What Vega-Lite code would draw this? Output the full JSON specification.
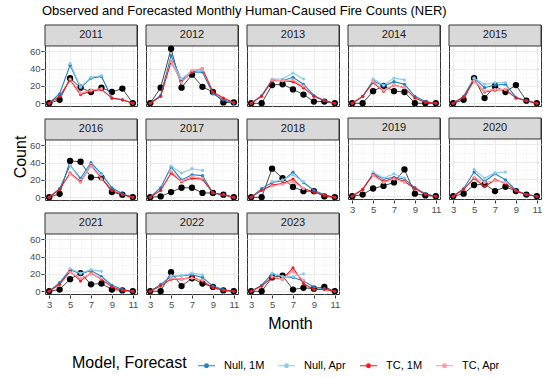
{
  "$schema": "https://vega.github.io/schema/vega-lite/v6.json",
  "title": {"text": "Observed and Forecasted Monthly Human-Caused Fire Counts (NER)", "anchor": "start", "fontSize": 13, "fontWeight": "normal", "font": "Liberation Sans", "color": "#000000", "offset": 6, "dx": 30},
  "padding": {"left": 12, "top": 5, "right": 5, "bottom": 5},
  "data": {"values": [
    {"Year":2011,"Month":3,"Observed":0,"Null, 1M":0,"Null, Apr":null,"TC, 1M":0,"TC, Apr":null},
    {"Year":2011,"Month":4,"Observed":4,"Null, 1M":11,"Null, Apr":null,"TC, 1M":8,"TC, Apr":null},
    {"Year":2011,"Month":5,"Observed":29,"Null, 1M":44,"Null, Apr":46,"TC, 1M":27,"TC, Apr":28},
    {"Year":2011,"Month":6,"Observed":18,"Null, 1M":18,"Null, Apr":19,"TC, 1M":10,"TC, Apr":12},
    {"Year":2011,"Month":7,"Observed":13,"Null, 1M":29,"Null, Apr":30,"TC, 1M":14,"TC, Apr":15},
    {"Year":2011,"Month":8,"Observed":18,"Null, 1M":31,"Null, Apr":32,"TC, 1M":16,"TC, Apr":17},
    {"Year":2011,"Month":9,"Observed":13,"Null, 1M":6,"Null, Apr":null,"TC, 1M":6,"TC, Apr":null},
    {"Year":2011,"Month":10,"Observed":17,"Null, 1M":4,"Null, Apr":null,"TC, 1M":4,"TC, Apr":null},
    {"Year":2011,"Month":11,"Observed":0,"Null, 1M":0,"Null, Apr":null,"TC, 1M":0,"TC, Apr":null},
    {"Year":2012,"Month":3,"Observed":0,"Null, 1M":0,"Null, Apr":null,"TC, 1M":0,"TC, Apr":null},
    {"Year":2012,"Month":4,"Observed":18,"Null, 1M":9,"Null, Apr":null,"TC, 1M":8,"TC, Apr":null},
    {"Year":2012,"Month":5,"Observed":63,"Null, 1M":55,"Null, Apr":50,"TC, 1M":48,"TC, Apr":48},
    {"Year":2012,"Month":6,"Observed":18,"Null, 1M":27,"Null, Apr":28,"TC, 1M":25,"TC, Apr":24},
    {"Year":2012,"Month":7,"Observed":33,"Null, 1M":36,"Null, Apr":38,"TC, 1M":36,"TC, Apr":38},
    {"Year":2012,"Month":8,"Observed":19,"Null, 1M":36,"Null, Apr":38,"TC, 1M":40,"TC, Apr":40},
    {"Year":2012,"Month":9,"Observed":13,"Null, 1M":11,"Null, Apr":null,"TC, 1M":13,"TC, Apr":null},
    {"Year":2012,"Month":10,"Observed":1,"Null, 1M":4,"Null, Apr":null,"TC, 1M":6,"TC, Apr":null},
    {"Year":2012,"Month":11,"Observed":1,"Null, 1M":0,"Null, Apr":null,"TC, 1M":1,"TC, Apr":null},
    {"Year":2013,"Month":3,"Observed":0,"Null, 1M":0,"Null, Apr":null,"TC, 1M":0,"TC, Apr":null},
    {"Year":2013,"Month":4,"Observed":0,"Null, 1M":9,"Null, Apr":null,"TC, 1M":8,"TC, Apr":null},
    {"Year":2013,"Month":5,"Observed":21,"Null, 1M":27,"Null, Apr":28,"TC, 1M":26,"TC, Apr":27},
    {"Year":2013,"Month":6,"Observed":22,"Null, 1M":26,"Null, Apr":28,"TC, 1M":26,"TC, Apr":26},
    {"Year":2013,"Month":7,"Observed":16,"Null, 1M":30,"Null, Apr":35,"TC, 1M":25,"TC, Apr":27},
    {"Year":2013,"Month":8,"Observed":10,"Null, 1M":22,"Null, Apr":28,"TC, 1M":18,"TC, Apr":20},
    {"Year":2013,"Month":9,"Observed":2,"Null, 1M":9,"Null, Apr":null,"TC, 1M":8,"TC, Apr":null},
    {"Year":2013,"Month":10,"Observed":2,"Null, 1M":3,"Null, Apr":null,"TC, 1M":3,"TC, Apr":null},
    {"Year":2013,"Month":11,"Observed":0,"Null, 1M":0,"Null, Apr":null,"TC, 1M":0,"TC, Apr":null},
    {"Year":2014,"Month":3,"Observed":0,"Null, 1M":0,"Null, Apr":null,"TC, 1M":0,"TC, Apr":null},
    {"Year":2014,"Month":4,"Observed":0,"Null, 1M":8,"Null, Apr":null,"TC, 1M":8,"TC, Apr":null},
    {"Year":2014,"Month":5,"Observed":14,"Null, 1M":26,"Null, Apr":28,"TC, 1M":24,"TC, Apr":25},
    {"Year":2014,"Month":6,"Observed":20,"Null, 1M":20,"Null, Apr":21,"TC, 1M":14,"TC, Apr":15},
    {"Year":2014,"Month":7,"Observed":14,"Null, 1M":25,"Null, Apr":29,"TC, 1M":21,"TC, Apr":21},
    {"Year":2014,"Month":8,"Observed":13,"Null, 1M":22,"Null, Apr":27,"TC, 1M":18,"TC, Apr":18},
    {"Year":2014,"Month":9,"Observed":0,"Null, 1M":8,"Null, Apr":null,"TC, 1M":6,"TC, Apr":null},
    {"Year":2014,"Month":10,"Observed":0,"Null, 1M":2,"Null, Apr":null,"TC, 1M":1,"TC, Apr":null},
    {"Year":2014,"Month":11,"Observed":0,"Null, 1M":0,"Null, Apr":null,"TC, 1M":0,"TC, Apr":null},
    {"Year":2015,"Month":3,"Observed":0,"Null, 1M":0,"Null, Apr":null,"TC, 1M":0,"TC, Apr":null},
    {"Year":2015,"Month":4,"Observed":4,"Null, 1M":8,"Null, Apr":null,"TC, 1M":7,"TC, Apr":null},
    {"Year":2015,"Month":5,"Observed":29,"Null, 1M":29,"Null, Apr":29,"TC, 1M":26,"TC, Apr":26},
    {"Year":2015,"Month":6,"Observed":6,"Null, 1M":18,"Null, Apr":22,"TC, 1M":13,"TC, Apr":14},
    {"Year":2015,"Month":7,"Observed":20,"Null, 1M":21,"Null, Apr":24,"TC, 1M":15,"TC, Apr":16},
    {"Year":2015,"Month":8,"Observed":13,"Null, 1M":22,"Null, Apr":24,"TC, 1M":16,"TC, Apr":16},
    {"Year":2015,"Month":9,"Observed":21,"Null, 1M":7,"Null, Apr":null,"TC, 1M":6,"TC, Apr":null},
    {"Year":2015,"Month":10,"Observed":3,"Null, 1M":3,"Null, Apr":null,"TC, 1M":3,"TC, Apr":null},
    {"Year":2015,"Month":11,"Observed":0,"Null, 1M":0,"Null, Apr":null,"TC, 1M":0,"TC, Apr":null},
    {"Year":2016,"Month":3,"Observed":0,"Null, 1M":0,"Null, Apr":null,"TC, 1M":0,"TC, Apr":null},
    {"Year":2016,"Month":4,"Observed":4,"Null, 1M":10,"Null, Apr":null,"TC, 1M":9,"TC, Apr":null},
    {"Year":2016,"Month":5,"Observed":42,"Null, 1M":37,"Null, Apr":37,"TC, 1M":28,"TC, Apr":27},
    {"Year":2016,"Month":6,"Observed":41,"Null, 1M":22,"Null, Apr":20,"TC, 1M":18,"TC, Apr":17},
    {"Year":2016,"Month":7,"Observed":23,"Null, 1M":40,"Null, Apr":38,"TC, 1M":37,"TC, Apr":36},
    {"Year":2016,"Month":8,"Observed":23,"Null, 1M":27,"Null, Apr":26,"TC, 1M":22,"TC, Apr":21},
    {"Year":2016,"Month":9,"Observed":6,"Null, 1M":11,"Null, Apr":null,"TC, 1M":8,"TC, Apr":null},
    {"Year":2016,"Month":10,"Observed":3,"Null, 1M":4,"Null, Apr":null,"TC, 1M":3,"TC, Apr":null},
    {"Year":2016,"Month":11,"Observed":0,"Null, 1M":0,"Null, Apr":null,"TC, 1M":0,"TC, Apr":null},
    {"Year":2017,"Month":3,"Observed":0,"Null, 1M":0,"Null, Apr":null,"TC, 1M":0,"TC, Apr":null},
    {"Year":2017,"Month":4,"Observed":1,"Null, 1M":11,"Null, Apr":null,"TC, 1M":8,"TC, Apr":null},
    {"Year":2017,"Month":5,"Observed":6,"Null, 1M":35,"Null, Apr":36,"TC, 1M":28,"TC, Apr":30},
    {"Year":2017,"Month":6,"Observed":11,"Null, 1M":20,"Null, Apr":28,"TC, 1M":18,"TC, Apr":19},
    {"Year":2017,"Month":7,"Observed":11,"Null, 1M":26,"Null, Apr":33,"TC, 1M":22,"TC, Apr":24},
    {"Year":2017,"Month":8,"Observed":5,"Null, 1M":25,"Null, Apr":31,"TC, 1M":21,"TC, Apr":22},
    {"Year":2017,"Month":9,"Observed":5,"Null, 1M":5,"Null, Apr":null,"TC, 1M":5,"TC, Apr":null},
    {"Year":2017,"Month":10,"Observed":3,"Null, 1M":3,"Null, Apr":null,"TC, 1M":3,"TC, Apr":null},
    {"Year":2017,"Month":11,"Observed":0,"Null, 1M":0,"Null, Apr":null,"TC, 1M":0,"TC, Apr":null},
    {"Year":2018,"Month":3,"Observed":0,"Null, 1M":0,"Null, Apr":null,"TC, 1M":0,"TC, Apr":null},
    {"Year":2018,"Month":4,"Observed":0,"Null, 1M":10,"Null, Apr":null,"TC, 1M":8,"TC, Apr":null},
    {"Year":2018,"Month":5,"Observed":33,"Null, 1M":17,"Null, Apr":18,"TC, 1M":14,"TC, Apr":13},
    {"Year":2018,"Month":6,"Observed":22,"Null, 1M":19,"Null, Apr":20,"TC, 1M":16,"TC, Apr":15},
    {"Year":2018,"Month":7,"Observed":12,"Null, 1M":29,"Null, Apr":26,"TC, 1M":21,"TC, Apr":18},
    {"Year":2018,"Month":8,"Observed":7,"Null, 1M":17,"Null, Apr":18,"TC, 1M":10,"TC, Apr":10},
    {"Year":2018,"Month":9,"Observed":7,"Null, 1M":8,"Null, Apr":null,"TC, 1M":6,"TC, Apr":null},
    {"Year":2018,"Month":10,"Observed":1,"Null, 1M":3,"Null, Apr":null,"TC, 1M":2,"TC, Apr":null},
    {"Year":2018,"Month":11,"Observed":0,"Null, 1M":0,"Null, Apr":null,"TC, 1M":0,"TC, Apr":null},
    {"Year":2019,"Month":3,"Observed":0,"Null, 1M":0,"Null, Apr":null,"TC, 1M":0,"TC, Apr":null},
    {"Year":2019,"Month":4,"Observed":2,"Null, 1M":8,"Null, Apr":null,"TC, 1M":8,"TC, Apr":null},
    {"Year":2019,"Month":5,"Observed":9,"Null, 1M":26,"Null, Apr":28,"TC, 1M":25,"TC, Apr":24},
    {"Year":2019,"Month":6,"Observed":12,"Null, 1M":20,"Null, Apr":21,"TC, 1M":17,"TC, Apr":16},
    {"Year":2019,"Month":7,"Observed":16,"Null, 1M":22,"Null, Apr":26,"TC, 1M":21,"TC, Apr":20},
    {"Year":2019,"Month":8,"Observed":31,"Null, 1M":20,"Null, Apr":21,"TC, 1M":17,"TC, Apr":16},
    {"Year":2019,"Month":9,"Observed":3,"Null, 1M":10,"Null, Apr":null,"TC, 1M":9,"TC, Apr":null},
    {"Year":2019,"Month":10,"Observed":1,"Null, 1M":3,"Null, Apr":null,"TC, 1M":2,"TC, Apr":null},
    {"Year":2019,"Month":11,"Observed":0,"Null, 1M":0,"Null, Apr":null,"TC, 1M":0,"TC, Apr":null},
    {"Year":2020,"Month":3,"Observed":0,"Null, 1M":0,"Null, Apr":null,"TC, 1M":0,"TC, Apr":null},
    {"Year":2020,"Month":4,"Observed":3,"Null, 1M":9,"Null, Apr":null,"TC, 1M":8,"TC, Apr":null},
    {"Year":2020,"Month":5,"Observed":13,"Null, 1M":28,"Null, Apr":31,"TC, 1M":21,"TC, Apr":22},
    {"Year":2020,"Month":6,"Observed":14,"Null, 1M":17,"Null, Apr":21,"TC, 1M":11,"TC, Apr":16},
    {"Year":2020,"Month":7,"Observed":6,"Null, 1M":26,"Null, Apr":27,"TC, 1M":19,"TC, Apr":18},
    {"Year":2020,"Month":8,"Observed":11,"Null, 1M":19,"Null, Apr":28,"TC, 1M":15,"TC, Apr":16},
    {"Year":2020,"Month":9,"Observed":6,"Null, 1M":7,"Null, Apr":null,"TC, 1M":6,"TC, Apr":null},
    {"Year":2020,"Month":10,"Observed":2,"Null, 1M":2,"Null, Apr":null,"TC, 1M":2,"TC, Apr":null},
    {"Year":2020,"Month":11,"Observed":0,"Null, 1M":0,"Null, Apr":null,"TC, 1M":0,"TC, Apr":null},
    {"Year":2021,"Month":3,"Observed":0,"Null, 1M":0,"Null, Apr":null,"TC, 1M":0,"TC, Apr":null},
    {"Year":2021,"Month":4,"Observed":2,"Null, 1M":10,"Null, Apr":null,"TC, 1M":8,"TC, Apr":null},
    {"Year":2021,"Month":5,"Observed":14,"Null, 1M":25,"Null, Apr":26,"TC, 1M":23,"TC, Apr":22},
    {"Year":2021,"Month":6,"Observed":21,"Null, 1M":20,"Null, Apr":21,"TC, 1M":12,"TC, Apr":15},
    {"Year":2021,"Month":7,"Observed":8,"Null, 1M":24,"Null, Apr":25,"TC, 1M":21,"TC, Apr":20},
    {"Year":2021,"Month":8,"Observed":9,"Null, 1M":17,"Null, Apr":23,"TC, 1M":14,"TC, Apr":15},
    {"Year":2021,"Month":9,"Observed":2,"Null, 1M":7,"Null, Apr":null,"TC, 1M":5,"TC, Apr":null},
    {"Year":2021,"Month":10,"Observed":1,"Null, 1M":2,"Null, Apr":null,"TC, 1M":1,"TC, Apr":null},
    {"Year":2021,"Month":11,"Observed":0,"Null, 1M":0,"Null, Apr":null,"TC, 1M":0,"TC, Apr":null},
    {"Year":2022,"Month":3,"Observed":0,"Null, 1M":0,"Null, Apr":null,"TC, 1M":0,"TC, Apr":null},
    {"Year":2022,"Month":4,"Observed":0,"Null, 1M":8,"Null, Apr":null,"TC, 1M":6,"TC, Apr":null},
    {"Year":2022,"Month":5,"Observed":22,"Null, 1M":17,"Null, Apr":18,"TC, 1M":14,"TC, Apr":15},
    {"Year":2022,"Month":6,"Observed":6,"Null, 1M":18,"Null, Apr":18,"TC, 1M":14,"TC, Apr":14},
    {"Year":2022,"Month":7,"Observed":15,"Null, 1M":19,"Null, Apr":21,"TC, 1M":16,"TC, Apr":15},
    {"Year":2022,"Month":8,"Observed":9,"Null, 1M":16,"Null, Apr":19,"TC, 1M":12,"TC, Apr":13},
    {"Year":2022,"Month":9,"Observed":5,"Null, 1M":6,"Null, Apr":null,"TC, 1M":4,"TC, Apr":null},
    {"Year":2022,"Month":10,"Observed":1,"Null, 1M":2,"Null, Apr":null,"TC, 1M":1,"TC, Apr":null},
    {"Year":2022,"Month":11,"Observed":0,"Null, 1M":0,"Null, Apr":null,"TC, 1M":0,"TC, Apr":null},
    {"Year":2023,"Month":3,"Observed":0,"Null, 1M":0,"Null, Apr":null,"TC, 1M":0,"TC, Apr":null},
    {"Year":2023,"Month":4,"Observed":0,"Null, 1M":7,"Null, Apr":null,"TC, 1M":6,"TC, Apr":null},
    {"Year":2023,"Month":5,"Observed":16,"Null, 1M":20,"Null, Apr":21,"TC, 1M":16,"TC, Apr":17},
    {"Year":2023,"Month":6,"Observed":18,"Null, 1M":17,"Null, Apr":17,"TC, 1M":14,"TC, Apr":14},
    {"Year":2023,"Month":7,"Observed":2,"Null, 1M":16,"Null, Apr":17,"TC, 1M":27,"TC, Apr":23},
    {"Year":2023,"Month":8,"Observed":4,"Null, 1M":12,"Null, Apr":20,"TC, 1M":9,"TC, Apr":13},
    {"Year":2023,"Month":9,"Observed":3,"Null, 1M":5,"Null, Apr":null,"TC, 1M":2,"TC, Apr":null},
    {"Year":2023,"Month":10,"Observed":5,"Null, 1M":3,"Null, Apr":null,"TC, 1M":2,"TC, Apr":null},
    {"Year":2023,"Month":11,"Observed":0,"Null, 1M":0,"Null, Apr":null,"TC, 1M":0,"TC, Apr":null}
  ]},
  "transform": [
    {"fold": ["Observed", "Null, 1M", "Null, Apr", "TC, 1M", "TC, Apr"], "as": ["Series", "Count"]},
    {"filter": "datum.Count != null"}
  ],
  "spacing": 0,
  "resolve": {"scale": {"color": "shared"}, "legend": {"color": "shared"}},
  "hconcat": [
    {
      "width": 1,
      "height": 263,
      "view": {"stroke": null},
      "mark": {"type": "point", "opacity": 0, "size": 0},
      "encoding": {
        "y": {"field": "Count", "type": "quantitative",
          "axis": {"title": "Count", "labels": false, "ticks": false, "domain": false, "grid": false, "titlePadding": 0}}
      }
    },
    {
      "vconcat": [
        {
          "hconcat": [
            {
              "vconcat": [
                {
                  "transform": [{"filter": "datum.Year >= 2011 && datum.Year <= 2013"}],
                  "facet": {"column": {"field": "Year", "type": "ordinal", "header": null}},
                  "spacing": 7,
                  "spec": {
                    "width": 92, "height": 81,
                    "encoding": {
                      "x": {"field": "Month", "type": "quantitative", "title": null,
                        "scale": {"domain": [2.6, 11.4], "nice": false, "zero": false},
                        "axis": {"values": [3, 4, 5, 6, 7, 8, 9, 10, 11], "labels": false, "ticks": false,
                          "gridColor": {"condition": {"test": "datum.value % 2 == 1", "value": "#EBEBEB"}, "value": "#F3F3F3"},
                          "gridWidth": {"condition": {"test": "datum.value % 2 == 1", "value": 1}, "value": 0.6}}},
                      "y": {"field": "Count", "type": "quantitative", "title": null,
                        "scale": {"domain": [-3.15, 90.4], "nice": false, "zero": false},
                        "axis": {"values": [0, 10, 20, 30, 40, 50, 60], "minExtent": 15, "maxExtent": 15,
                          "labelExpr": "datum.value % 20 == 0 ? datum.label : ''",
                          "tickOpacity": {"condition": {"test": "datum.value % 20 == 0", "value": 1}, "value": 0},
                          "gridColor": {"condition": {"test": "datum.value % 20 == 0", "value": "#EBEBEB"}, "value": "#F3F3F3"},
                          "gridWidth": {"condition": {"test": "datum.value % 20 == 0", "value": 1}, "value": 0.6}}}
                    },
                    "layer": [
                      {"transform": [{"filter": "datum.Series == 'Observed' && datum.Month == 3"}],
                       "mark": {"type": "rect", "fill": "#D9D9D9", "stroke": "#333333", "strokeWidth": 1},
                       "encoding": {"x": {"datum": 2.6, "type": "quantitative", "title": null}, "x2": {"datum": 11.4}, "y": {"datum": 66.15, "type": "quantitative", "title": null}, "y2": {"datum": 90.4}}},
                      {"transform": [{"filter": "datum.Series == 'Observed' && datum.Month == 3"}],
                       "mark": {"type": "text", "fontSize": 11, "font": "Liberation Sans", "color": "#1A1A1A"},
                       "encoding": {"x": {"datum": 7, "type": "quantitative", "title": null}, "y": {"datum": 78.3, "type": "quantitative", "title": null}, "text": {"field": "Year"}}},
                      {"transform": [{"filter": "datum.Series == 'Observed'"}], "mark": {"type": "line", "color": "#333333", "strokeWidth": 0.9}},
                      {"transform": [{"filter": "datum.Series == 'Observed'"}], "mark": {"type": "point", "filled": true, "color": "#000000", "size": 40, "opacity": 1}},
                      {"transform": [{"filter": "datum.Series != 'Observed'"}], "mark": {"type": "line", "strokeWidth": 1.1},
                       "encoding": {"color": {"field": "Series", "type": "nominal", "scale": {"domain": ["Null, 1M", "Null, Apr", "TC, 1M", "TC, Apr"], "range": ["#1F82C4", "#8CCBEB", "#F8141C", "#FB9CA4"]}, "legend": {"title": "Model, Forecast", "orient": "none", "legendX": 44, "legendY": 331}}}},
                      {"transform": [{"filter": "datum.Series != 'Observed'"}], "mark": {"type": "point", "filled": true, "size": 10, "opacity": 1},
                       "encoding": {"color": {"field": "Series", "type": "nominal", "legend": {"title": "Model, Forecast", "orient": "none", "legendX": 44, "legendY": 331}}}}
                    ]
                  }
                },
                {
                  "transform": [{"filter": "datum.Year >= 2016 && datum.Year <= 2018"}],
                  "facet": {"column": {"field": "Year", "type": "ordinal", "header": null}},
                  "spacing": 7,
                  "spec": {
                    "width": 92, "height": 81,
                    "encoding": {
                      "x": {"field": "Month", "type": "quantitative", "title": null,
                        "scale": {"domain": [2.6, 11.4], "nice": false, "zero": false},
                        "axis": {"values": [3, 4, 5, 6, 7, 8, 9, 10, 11], "labels": false, "ticks": false,
                          "gridColor": {"condition": {"test": "datum.value % 2 == 1", "value": "#EBEBEB"}, "value": "#F3F3F3"},
                          "gridWidth": {"condition": {"test": "datum.value % 2 == 1", "value": 1}, "value": 0.6}}},
                      "y": {"field": "Count", "type": "quantitative", "title": null,
                        "scale": {"domain": [-3.15, 90.4], "nice": false, "zero": false},
                        "axis": {"values": [0, 10, 20, 30, 40, 50, 60], "minExtent": 15, "maxExtent": 15,
                          "labelExpr": "datum.value % 20 == 0 ? datum.label : ''",
                          "tickOpacity": {"condition": {"test": "datum.value % 20 == 0", "value": 1}, "value": 0},
                          "gridColor": {"condition": {"test": "datum.value % 20 == 0", "value": "#EBEBEB"}, "value": "#F3F3F3"},
                          "gridWidth": {"condition": {"test": "datum.value % 20 == 0", "value": 1}, "value": 0.6}}}
                    },
                    "layer": [
                      {"transform": [{"filter": "datum.Series == 'Observed' && datum.Month == 3"}],
                       "mark": {"type": "rect", "fill": "#D9D9D9", "stroke": "#333333", "strokeWidth": 1},
                       "encoding": {"x": {"datum": 2.6, "type": "quantitative", "title": null}, "x2": {"datum": 11.4}, "y": {"datum": 66.15, "type": "quantitative", "title": null}, "y2": {"datum": 90.4}}},
                      {"transform": [{"filter": "datum.Series == 'Observed' && datum.Month == 3"}],
                       "mark": {"type": "text", "fontSize": 11, "font": "Liberation Sans", "color": "#1A1A1A"},
                       "encoding": {"x": {"datum": 7, "type": "quantitative", "title": null}, "y": {"datum": 78.3, "type": "quantitative", "title": null}, "text": {"field": "Year"}}},
                      {"transform": [{"filter": "datum.Series == 'Observed'"}], "mark": {"type": "line", "color": "#333333", "strokeWidth": 0.9}},
                      {"transform": [{"filter": "datum.Series == 'Observed'"}], "mark": {"type": "point", "filled": true, "color": "#000000", "size": 40, "opacity": 1}},
                      {"transform": [{"filter": "datum.Series != 'Observed'"}], "mark": {"type": "line", "strokeWidth": 1.1},
                       "encoding": {"color": {"field": "Series", "type": "nominal", "legend": {"title": "Model, Forecast", "orient": "none", "legendX": 44, "legendY": 331}}}},
                      {"transform": [{"filter": "datum.Series != 'Observed'"}], "mark": {"type": "point", "filled": true, "size": 10, "opacity": 1},
                       "encoding": {"color": {"field": "Series", "type": "nominal", "legend": {"title": "Model, Forecast", "orient": "none", "legendX": 44, "legendY": 331}}}}
                    ]
                  }
                },
                {
                  "transform": [{"filter": "datum.Year >= 2021"}],
                  "facet": {"column": {"field": "Year", "type": "ordinal", "header": null}},
                  "spacing": 7,
                  "spec": {
                    "width": 92, "height": 81,
                    "encoding": {
                      "x": {"field": "Month", "type": "quantitative", "title": null,
                        "scale": {"domain": [2.6, 11.4], "nice": false, "zero": false},
                        "axis": {"values": [3, 4, 5, 6, 7, 8, 9, 10, 11],
                          "labelExpr": "datum.value % 2 == 1 ? datum.label : ''",
                          "tickOpacity": {"condition": {"test": "datum.value % 2 == 1", "value": 1}, "value": 0},
                          "gridColor": {"condition": {"test": "datum.value % 2 == 1", "value": "#EBEBEB"}, "value": "#F3F3F3"},
                          "gridWidth": {"condition": {"test": "datum.value % 2 == 1", "value": 1}, "value": 0.6}}},
                      "y": {"field": "Count", "type": "quantitative", "title": null,
                        "scale": {"domain": [-3.15, 90.4], "nice": false, "zero": false},
                        "axis": {"values": [0, 10, 20, 30, 40, 50, 60], "minExtent": 15, "maxExtent": 15,
                          "labelExpr": "datum.value % 20 == 0 ? datum.label : ''",
                          "tickOpacity": {"condition": {"test": "datum.value % 20 == 0", "value": 1}, "value": 0},
                          "gridColor": {"condition": {"test": "datum.value % 20 == 0", "value": "#EBEBEB"}, "value": "#F3F3F3"},
                          "gridWidth": {"condition": {"test": "datum.value % 20 == 0", "value": 1}, "value": 0.6}}}
                    },
                    "layer": [
                      {"transform": [{"filter": "datum.Series == 'Observed' && datum.Month == 3"}],
                       "mark": {"type": "rect", "fill": "#D9D9D9", "stroke": "#333333", "strokeWidth": 1},
                       "encoding": {"x": {"datum": 2.6, "type": "quantitative", "title": null}, "x2": {"datum": 11.4}, "y": {"datum": 66.15, "type": "quantitative", "title": null}, "y2": {"datum": 90.4}}},
                      {"transform": [{"filter": "datum.Series == 'Observed' && datum.Month == 3"}],
                       "mark": {"type": "text", "fontSize": 11, "font": "Liberation Sans", "color": "#1A1A1A"},
                       "encoding": {"x": {"datum": 7, "type": "quantitative", "title": null}, "y": {"datum": 78.3, "type": "quantitative", "title": null}, "text": {"field": "Year"}}},
                      {"transform": [{"filter": "datum.Series == 'Observed'"}], "mark": {"type": "line", "color": "#333333", "strokeWidth": 0.9}},
                      {"transform": [{"filter": "datum.Series == 'Observed'"}], "mark": {"type": "point", "filled": true, "color": "#000000", "size": 40, "opacity": 1}},
                      {"transform": [{"filter": "datum.Series != 'Observed'"}], "mark": {"type": "line", "strokeWidth": 1.1},
                       "encoding": {"color": {"field": "Series", "type": "nominal", "legend": {"title": "Model, Forecast", "orient": "none", "legendX": 44, "legendY": 331}}}},
                      {"transform": [{"filter": "datum.Series != 'Observed'"}], "mark": {"type": "point", "filled": true, "size": 10, "opacity": 1},
                       "encoding": {"color": {"field": "Series", "type": "nominal", "legend": {"title": "Model, Forecast", "orient": "none", "legendX": 44, "legendY": 331}}}}
                    ]
                  }
                }
              ],
              "spacing": 10
            },
            {
              "vconcat": [
                {
                  "transform": [{"filter": "datum.Year >= 2014 && datum.Year <= 2015"}],
                  "facet": {"column": {"field": "Year", "type": "ordinal", "header": null}},
                  "spacing": 7,
                  "spec": {
                    "width": 92, "height": 81,
                    "encoding": {
                      "x": {"field": "Month", "type": "quantitative", "title": null,
                        "scale": {"domain": [2.6, 11.4], "nice": false, "zero": false},
                        "axis": {"values": [3, 4, 5, 6, 7, 8, 9, 10, 11], "labels": false, "ticks": false,
                          "gridColor": {"condition": {"test": "datum.value % 2 == 1", "value": "#EBEBEB"}, "value": "#F3F3F3"},
                          "gridWidth": {"condition": {"test": "datum.value % 2 == 1", "value": 1}, "value": 0.6}}},
                      "y": {"field": "Count", "type": "quantitative", "title": null,
                        "scale": {"domain": [-3.15, 90.4], "nice": false, "zero": false},
                        "axis": {"values": [0, 10, 20, 30, 40, 50, 60], "labels": false, "ticks": false, "minExtent": 0, "maxExtent": 0,
                          "gridColor": {"condition": {"test": "datum.value % 20 == 0", "value": "#EBEBEB"}, "value": "#F3F3F3"},
                          "gridWidth": {"condition": {"test": "datum.value % 20 == 0", "value": 1}, "value": 0.6}}}
                    },
                    "layer": [
                      {"transform": [{"filter": "datum.Series == 'Observed' && datum.Month == 3"}],
                       "mark": {"type": "rect", "fill": "#D9D9D9", "stroke": "#333333", "strokeWidth": 1},
                       "encoding": {"x": {"datum": 2.6, "type": "quantitative", "title": null}, "x2": {"datum": 11.4}, "y": {"datum": 66.15, "type": "quantitative", "title": null}, "y2": {"datum": 90.4}}},
                      {"transform": [{"filter": "datum.Series == 'Observed' && datum.Month == 3"}],
                       "mark": {"type": "text", "fontSize": 11, "font": "Liberation Sans", "color": "#1A1A1A"},
                       "encoding": {"x": {"datum": 7, "type": "quantitative", "title": null}, "y": {"datum": 78.3, "type": "quantitative", "title": null}, "text": {"field": "Year"}}},
                      {"transform": [{"filter": "datum.Series == 'Observed'"}], "mark": {"type": "line", "color": "#333333", "strokeWidth": 0.9}},
                      {"transform": [{"filter": "datum.Series == 'Observed'"}], "mark": {"type": "point", "filled": true, "color": "#000000", "size": 40, "opacity": 1}},
                      {"transform": [{"filter": "datum.Series != 'Observed'"}], "mark": {"type": "line", "strokeWidth": 1.1},
                       "encoding": {"color": {"field": "Series", "type": "nominal", "legend": {"title": "Model, Forecast", "orient": "none", "legendX": 44, "legendY": 331}}}},
                      {"transform": [{"filter": "datum.Series != 'Observed'"}], "mark": {"type": "point", "filled": true, "size": 10, "opacity": 1},
                       "encoding": {"color": {"field": "Series", "type": "nominal", "legend": {"title": "Model, Forecast", "orient": "none", "legendX": 44, "legendY": 331}}}}
                    ]
                  }
                },
                {
                  "transform": [{"filter": "datum.Year >= 2019 && datum.Year <= 2020"}],
                  "facet": {"column": {"field": "Year", "type": "ordinal", "header": null}},
                  "spacing": 7,
                  "spec": {
                    "width": 92, "height": 81,
                    "encoding": {
                      "x": {"field": "Month", "type": "quantitative", "title": null,
                        "scale": {"domain": [2.6, 11.4], "nice": false, "zero": false},
                        "axis": {"values": [3, 4, 5, 6, 7, 8, 9, 10, 11],
                          "labelExpr": "datum.value % 2 == 1 ? datum.label : ''",
                          "tickOpacity": {"condition": {"test": "datum.value % 2 == 1", "value": 1}, "value": 0},
                          "gridColor": {"condition": {"test": "datum.value % 2 == 1", "value": "#EBEBEB"}, "value": "#F3F3F3"},
                          "gridWidth": {"condition": {"test": "datum.value % 2 == 1", "value": 1}, "value": 0.6}}},
                      "y": {"field": "Count", "type": "quantitative", "title": null,
                        "scale": {"domain": [-3.15, 90.4], "nice": false, "zero": false},
                        "axis": {"values": [0, 10, 20, 30, 40, 50, 60], "labels": false, "ticks": false, "minExtent": 0, "maxExtent": 0,
                          "gridColor": {"condition": {"test": "datum.value % 20 == 0", "value": "#EBEBEB"}, "value": "#F3F3F3"},
                          "gridWidth": {"condition": {"test": "datum.value % 20 == 0", "value": 1}, "value": 0.6}}}
                    },
                    "layer": [
                      {"transform": [{"filter": "datum.Series == 'Observed' && datum.Month == 3"}],
                       "mark": {"type": "rect", "fill": "#D9D9D9", "stroke": "#333333", "strokeWidth": 1},
                       "encoding": {"x": {"datum": 2.6, "type": "quantitative", "title": null}, "x2": {"datum": 11.4}, "y": {"datum": 66.15, "type": "quantitative", "title": null}, "y2": {"datum": 90.4}}},
                      {"transform": [{"filter": "datum.Series == 'Observed' && datum.Month == 3"}],
                       "mark": {"type": "text", "fontSize": 11, "font": "Liberation Sans", "color": "#1A1A1A"},
                       "encoding": {"x": {"datum": 7, "type": "quantitative", "title": null}, "y": {"datum": 78.3, "type": "quantitative", "title": null}, "text": {"field": "Year"}}},
                      {"transform": [{"filter": "datum.Series == 'Observed'"}], "mark": {"type": "line", "color": "#333333", "strokeWidth": 0.9}},
                      {"transform": [{"filter": "datum.Series == 'Observed'"}], "mark": {"type": "point", "filled": true, "color": "#000000", "size": 40, "opacity": 1}},
                      {"transform": [{"filter": "datum.Series != 'Observed'"}], "mark": {"type": "line", "strokeWidth": 1.1},
                       "encoding": {"color": {"field": "Series", "type": "nominal", "legend": {"title": "Model, Forecast", "orient": "none", "legendX": 44, "legendY": 331}}}},
                      {"transform": [{"filter": "datum.Series != 'Observed'"}], "mark": {"type": "point", "filled": true, "size": 10, "opacity": 1},
                       "encoding": {"color": {"field": "Series", "type": "nominal", "legend": {"title": "Model, Forecast", "orient": "none", "legendX": 44, "legendY": 331}}}}
                    ]
                  }
                }
              ],
              "spacing": 10
            }
          ],
          "spacing": 7
        },
        {
          "width": 490,
          "height": 1,
          "view": {"stroke": null},
          "mark": {"type": "point", "opacity": 0, "size": 0},
          "encoding": {
            "x": {"field": "Month", "type": "quantitative",
              "axis": {"title": "Month", "labels": false, "ticks": false, "domain": false, "grid": false, "titlePadding": 0}},
            "y": {"field": "Count", "type": "quantitative",
              "axis": {"title": null, "labels": false, "ticks": false, "domain": false, "grid": false, "minExtent": 15, "maxExtent": 15}}
          }
        }
      ],
      "spacing": 5
    }
  ],
  "config": {
    "font": "Liberation Sans",
    "view": {"stroke": "#333333", "strokeWidth": 1},
    "header": {"labels": false, "title": null},
    "axis": {"domain": false, "tickColor": "#333333", "tickSize": 3, "labelColor": "#4D4D4D", "labelFontSize": 9.5, "labelPadding": 1, "titleFontSize": 16, "titleFontWeight": "normal", "titleColor": "#000000", "grid": true},
    "legend": {"direction": "horizontal", "titleOrient": "left", "titleFontSize": 16, "titleFontWeight": "normal", "titleColor": "#000000", "labelFontSize": 11, "labelColor": "#000000", "symbolType": "M-1,0L1,0M0.22,0A0.22,0.22,0,1,1,-0.22,0A0.22,0.22,0,1,1,0.22,0", "symbolSize": 289, "symbolStrokeWidth": 1.2, "columnPadding": 10, "labelOffset": 8, "titlePadding": 10}
  }
}
